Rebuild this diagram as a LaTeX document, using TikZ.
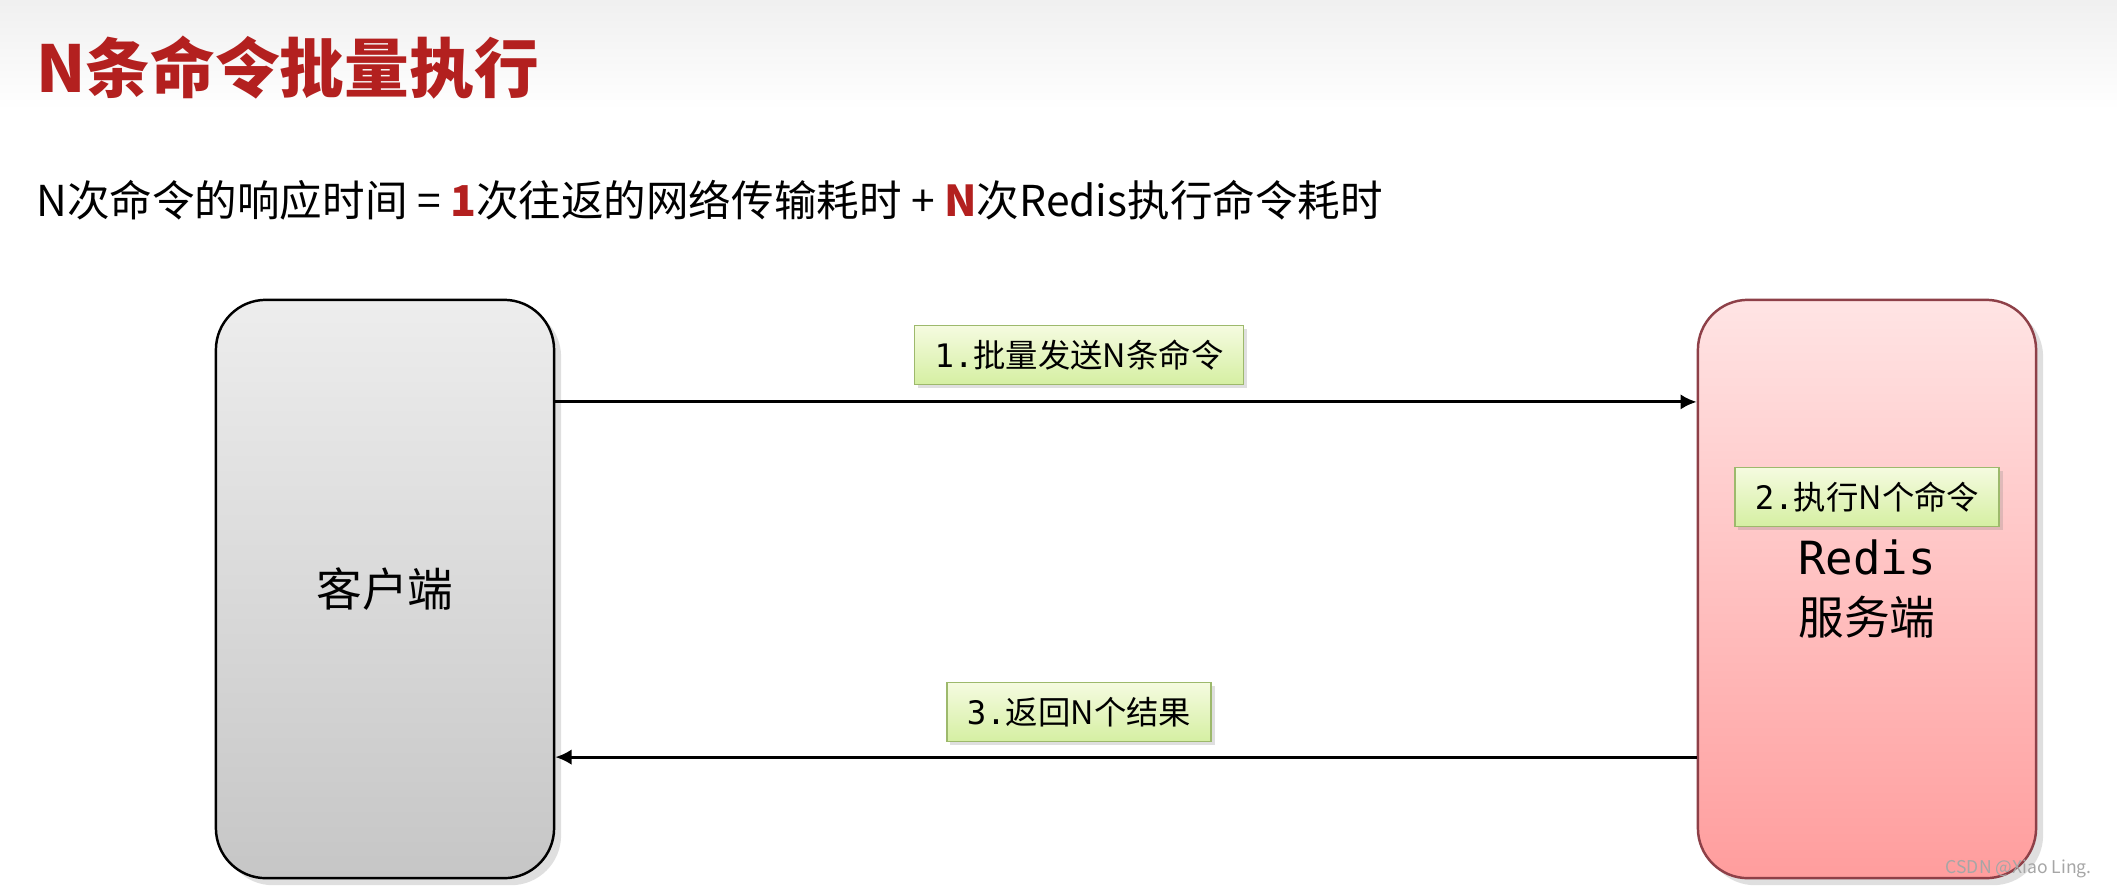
\documentclass[tikz,border=0pt]{standalone}
\usepackage{fontspec}
\setmainfont{Noto Sans CJK SC}
\newfontfamily\monofont{DejaVu Sans Mono}
\usetikzlibrary{positioning,arrows.meta,shadows}
\definecolor{rdTitle}{HTML}{B3201F}
\definecolor{rdGreyTop}{HTML}{EDEDED}
\definecolor{rdGreyBot}{HTML}{C6C6C6}
\definecolor{rdPinkTop}{HTML}{FFE4E4}
\definecolor{rdPinkBot}{HTML}{FF9D9D}
\definecolor{rdPinkLine}{HTML}{8E4048}
\definecolor{rdTagTop}{HTML}{F5FBE0}
\definecolor{rdTagBot}{HTML}{D5EFA2}
\definecolor{rdTagLine}{HTML}{9DB96C}
\newcommand{\mono}[1]{{\monofont #1}}

\begin{document}
\begin{tikzpicture}[x=0.01cm, y=-0.01cm,
      box/.style={rounded corners=0.5cm, line width=0.7pt,
        minimum width=3.38cm, minimum height=5.78cm, font=\fontsize{13}{17}\selectfont,
        align=center, drop shadow={opacity=0.25, shadow xshift=2pt, shadow yshift=-2pt}},
      tag/.style={draw=rdTagLine, line width=0.5pt, top color=rdTagTop, bottom color=rdTagBot,
        minimum height=0.59cm, inner xsep=0.2cm, font=\fontsize{9.2}{11}\selectfont,
        drop shadow={opacity=0.25, shadow xshift=1pt, shadow yshift=-1pt}},
      a/.style={-{Latex[length=4.6pt, width=4.4pt]}, line width=0.85pt}]
    \useasboundingbox[fill=white] (0,0) rectangle (2117,887);
    \fill[top color=gray!12, bottom color=white] (0,0) rectangle (2117,110);
    % heading and formula
    \node[anchor=west, font=\fontsize{18.4}{22}\selectfont\bfseries, color=rdTitle] (title) at (24,68)
      {N条命令批量执行};
    \node[anchor=west, font=\fontsize{12.1}{15}\selectfont] (sum) at (24,200)
      {N次命令的响应时间 = {\color{rdTitle}\bfseries 1}次往返的网络传输耗时 + {\color{rdTitle}\bfseries N}次Redis执行命令耗时};
    % client and server
    \node[box, draw=black, top color=rdGreyTop, bottom color=rdGreyBot] (client) at (385,589) {客户端};
    \node[box, draw=rdPinkLine, top color=rdPinkTop, bottom color=rdPinkBot] (redis) at (1867,589)
      {\mono{Redis}\\服务端};
    % requests and replies
    \draw[a] ([yshift=1.87cm]client.east) -- ([yshift=1.87cm]redis.west);
    \draw[a] ([yshift=-1.68cm]redis.west) -- ([yshift=-1.68cm]client.east);
    \node[tag] (t1) at (1079,355) {\mono{1.}批量发送N条命令};
    \node[tag] (t2) at (1867,497) {\mono{2.}执行N个命令};
    \node[tag] (t3) at (1079,712) {\mono{3.}返回N个结果};
    \node[anchor=east, font=\fontsize{5}{6}\selectfont, color=gray!70] (mark) at (2104,869) {CSDN @Xiao Ling.};
  \end{tikzpicture}
\end{document}
